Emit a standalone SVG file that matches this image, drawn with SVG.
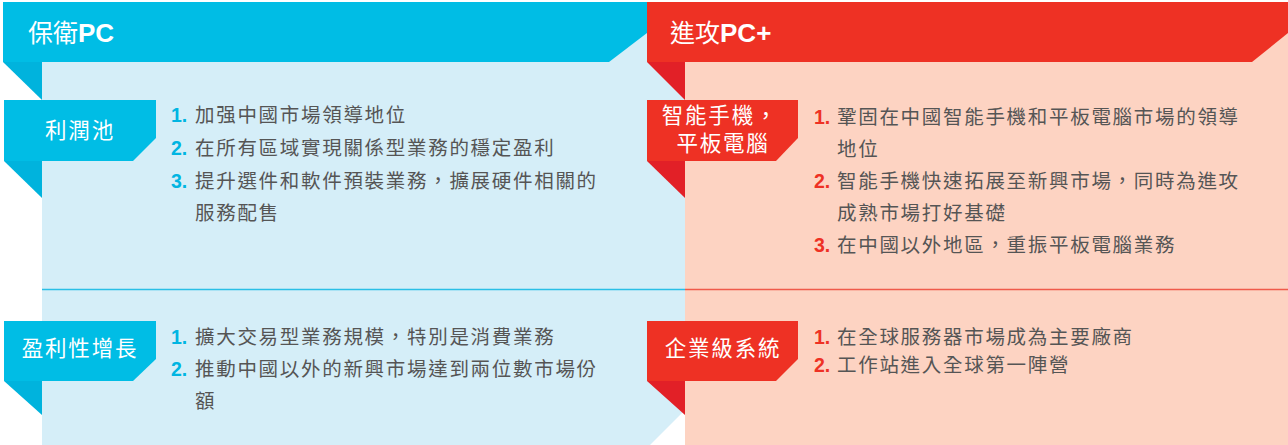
<svg xmlns="http://www.w3.org/2000/svg" width="1288" height="445" viewBox="0 0 1288 445">
<style>
.hdr{font-family:"Noto Sans CJK TC","Liberation Sans",sans-serif;font-size:25px;fill:#fff}
.en{font-family:"Liberation Sans",Arial,sans-serif;font-weight:bold;font-size:26px}
.tab{font-family:"Noto Sans CJK TC","Liberation Sans",sans-serif;font-size:21.5px;fill:#fff;letter-spacing:1.8px;text-anchor:middle}
.item{font-family:"Noto Sans CJK TC","Liberation Sans",sans-serif;font-size:19.5px;fill:#555555;letter-spacing:1.7px}
.nb{font-family:"Liberation Sans",Arial,sans-serif;font-size:19.5px;font-weight:bold;fill:#00b5e2}
.nr{font-family:"Liberation Sans",Arial,sans-serif;font-size:19.5px;font-weight:bold;fill:#ee3124}
.blue{fill:#00bde5}
.bfold{fill:#00b3dd}
.red{fill:#ee3124}
.rfold{fill:#e22027}
</style>
<rect width="1288" height="445" fill="#ffffff"/>
<g id="panels">
<polygon points="42,30 685,30 685,410 650,445 42,445" fill="#d5eef8"/>
<rect x="685" y="30" width="603" height="415" fill="#fdd3c2"/>
<line x1="42" y1="289.5" x2="685" y2="289.5" stroke="#29bfe6" stroke-width="1.5"/>
<line x1="685" y1="289.5" x2="1288" y2="289.5" stroke="#f05a4a" stroke-width="1.5"/>
</g>
<g id="header-defend">
<polygon class="blue" points="3,2 647,2 647,33 609,62 3,62"/>
<polygon class="bfold" points="3,62 42,62 42,100"/>
<text class="hdr" x="28" y="42">保衛<tspan class="en">PC</tspan></text>
</g>
<g id="header-attack">
<polygon class="red" points="647,2 1288,2 1288,33 1252,62 647,62"/>
<polygon class="rfold" points="647,62 685,62 685,100"/>
<text class="hdr" x="670" y="42">進攻<tspan class="en">PC+</tspan></text>
</g>
<g id="tab-profit-pool">
<polygon class="blue" points="4,100 156,100 156,138 133,161 4,161"/>
<polygon class="bfold" points="4,161 42,161 42,198"/>
<text class="tab" x="80" y="138">利潤池</text>
</g>
<g id="tab-profit-growth">
<polygon class="blue" points="4,321 156,321 156,359 133,381 4,381"/>
<polygon class="bfold" points="4,381 42,381 42,415"/>
<text class="tab" x="80" y="356">盈利性增長</text>
</g>
<g id="tab-mobile">
<polygon class="red" points="647,100 798,100 798,138 776,161 647,161"/>
<polygon class="rfold" points="647,161 685,161 685,198"/>
<text class="tab" x="720" y="123">智能手機，</text>
<text class="tab" x="723" y="151">平板電腦</text>
</g>
<g id="tab-enterprise">
<polygon class="red" points="647,321 798,321 798,359 776,381 647,381"/>
<polygon class="rfold" points="647,381 685,381 685,415"/>
<text class="tab" x="723" y="356">企業級系統</text>
</g>
<g id="list-profit-pool">
<text class="nb" x="171" y="122">1.</text><text class="item" x="195" y="122">加强中國市場領導地位</text>
<text class="nb" x="171" y="155">2.</text><text class="item" x="195" y="155">在所有區域實現關係型業務的穩定盈利</text>
<text class="nb" x="171" y="188">3.</text><text class="item" x="195" y="188">提升選件和軟件預裝業務，擴展硬件相關的</text>
<text class="item" x="195" y="220">服務配售</text>
</g>
<g id="list-profit-growth">
<text class="nb" x="171" y="344">1.</text><text class="item" x="195" y="344">擴大交易型業務規模，特別是消費業務</text>
<text class="nb" x="171" y="376">2.</text><text class="item" x="195" y="376">推動中國以外的新興市場達到兩位數市場份</text>
<text class="item" x="195" y="408">額</text>
</g>
<g id="list-mobile">
<text class="nr" x="814" y="124">1.</text><text class="item" x="837" y="124">鞏固在中國智能手機和平板電腦市場的領導</text>
<text class="item" x="837" y="156">地位</text>
<text class="nr" x="814" y="188">2.</text><text class="item" x="837" y="188">智能手機快速拓展至新興市場，同時為進攻</text>
<text class="item" x="837" y="220">成熟市場打好基礎</text>
<text class="nr" x="814" y="252">3.</text><text class="item" x="837" y="252">在中國以外地區，重振平板電腦業務</text>
</g>
<g id="list-enterprise">
<text class="nr" x="814" y="344">1.</text><text class="item" x="837" y="344">在全球服務器市場成為主要廠商</text>
<text class="nr" x="814" y="372">2.</text><text class="item" x="837" y="372">工作站進入全球第一陣營</text>
</g>
<g id="connectors"></g>
</svg>
